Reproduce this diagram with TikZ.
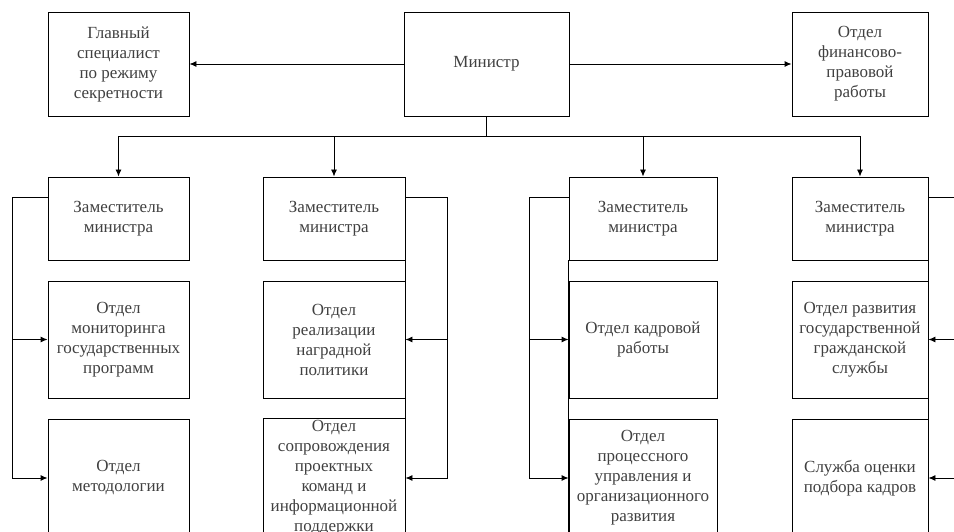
\documentclass[tikz,border=0pt]{standalone}
\usepackage{fontspec}
\setmainfont{Liberation Serif}
\usetikzlibrary{arrows.meta}
\begin{document}
\begin{tikzpicture}[x=1pt, y=-1pt, >={Latex[length=7pt,width=6pt]}, line width=0.9pt,
    box/.style={draw, align=center, text=black!75, inner sep=2pt, font=\fontsize{17}{20}\selectfont},
    cola/.style={box, minimum width=141pt},
    colb/.style={box, minimum width=142pt},
    colc/.style={box, minimum width=148pt},
    cold/.style={box, minimum width=136pt}]
    \clip (0,0) rectangle (954,532);

    % top row
    \node[cola, minimum height=104pt] at (118.5,64)(secr){Главный\\специалист\\по режиму\\секретности};
    \node[box, minimum width=165pt, minimum height=104pt] at (486.5,64)(min){Министр};
    \node[cold, minimum height=104pt] at (860,64)(fin){Отдел\\финансово-\\правовой\\работы};

    % deputies
    \node[cola, minimum height=83pt] at (118.5,218.5)(depa){Заместитель\\министра};
    \node[colb, minimum height=83pt] at (334,218.5)(depb){Заместитель\\министра};
    \node[colc, minimum height=83pt] at (643,218.5)(depc){Заместитель\\министра};
    \node[cold, minimum height=83pt] at (860,218.5)(depd){Заместитель\\министра};

    % departments
    \node[cola, minimum height=117pt] at (118.5,339.5)(monit){Отдел\\мониторинга\\государственных\\программ};
    \node[colb, minimum height=117pt] at (334,339.5)(award){Отдел\\реализации\\наградной\\политики};
    \node[colc, minimum height=117pt] at (643,339.5)(staff){Отдел кадровой\\работы};
    \node[cold, minimum height=117pt] at (860,339.5)(civil){Отдел развития\\государственной\\гражданской\\службы};

    \node[cola, minimum height=118pt] at (118.5,478)(method){Отдел\\методологии};
    \node[colb, minimum height=118pt] at (334,478)(projt){Отдел\\сопровождения\\проектных\\команд и\\информационной\\поддержки};
    \node[colc, minimum height=118pt] at (643,478)(procs){Отдел\\процессного\\управления и\\организационного\\развития};
    \node[cold, minimum height=118pt] at (860,478)(evalu){Служба оценки\\подбора кадров};

    \coordinate (bus) at ([yshift=-20pt]min.south);
    \coordinate (la) at (12,197);
    \coordinate (lb) at (447,197);
    \coordinate (lc) at (529,197);
    \coordinate (ld) at (970,197);

    \draw[->](min.west) -- (secr.east);
    \draw[->](min.east) -- (fin.west);
    \draw(min.south) -- (bus);
    \draw(depa.north |- bus) -- (depd.north |- bus);
    \draw[->](depa.north |- bus) -- (depa.north);
    \draw[->](depb.north |- bus) -- (depb.north);
    \draw[->](depc.north |- bus) -- (depc.north);
    \draw[->](depd.north |- bus) -- (depd.north);

    \draw[->](depa.west |- la) -- (la) |- (method.west);
    \draw[->](la |- monit.west) -- (monit.west);
    \draw[->](depb.east |- lb) -- (lb) |- (projt.east);
    \draw[->](lb |- award.east) -- (award.east);
    \draw[->](depc.west |- lc) -- (lc) |- (procs.west);
    \draw[->](lc |- staff.west) -- (staff.west);
    \draw[->](depd.east |- ld) -- (ld) |- (evalu.east);
    \draw[->](ld |- civil.east) -- (civil.east);

    \draw(depb.south east) -- (projt.south east);
    \draw(depc.south west) -- (procs.south west);
    \draw(depd.south east) -- (evalu.south east);
\end{tikzpicture}
\end{document}
